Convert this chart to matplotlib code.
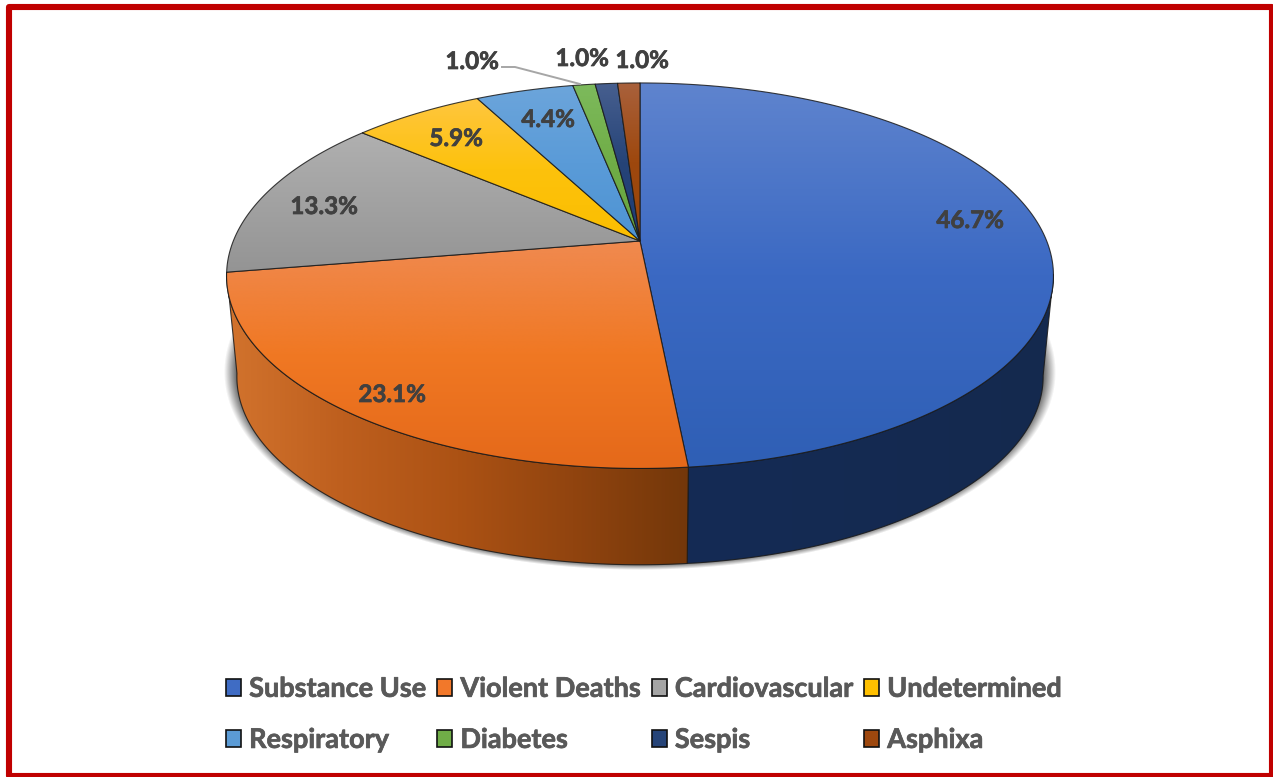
import numpy as np
import matplotlib
matplotlib.use("Agg")
import matplotlib.pyplot as plt
import matplotlib.patheffects as pe
from matplotlib.colors import LinearSegmentedColormap
from matplotlib.patches import Polygon, Rectangle

# ---------- data ----------
categories = ["Substance Use", "Violent Deaths", "Cardiovascular", "Undetermined",
              "Respiratory", "Diabetes", "Sespis", "Asphixa"]
values = [46.7, 23.1, 13.3, 5.9, 4.4, 1.0, 1.0, 1.0]
top_light = ["#5F84CE", "#F08A50", "#B0B0B0", "#FFC63F", "#6CA5DB", "#7DBA5C", "#475F8F", "#A9613C"]
top_mid = ["#3B69C3", "#F07823", "#A2A2A2", "#FDC20C", "#5A9BD8", "#70AD47", "#264478", "#9E480E"]
top_deep = ["#2F5FB5", "#E5691A", "#949494", "#FBBE00", "#4E94D3", "#66A53E", "#1E3C76", "#9A460A"]
legend_face = ["#3F6CC4", "#F2782A", "#A5A5A5", "#FFC000", "#5B9BD5", "#70AD47", "#264478", "#9E480E"]
side_orange = ["#D2732D", "#BE5F1E", "#AC5214", "#91440F", "#73370A"]
side_blue = ["#152B55", "#14294E"]

# ---------- layout ----------
W, H = 1273, 777
CX, APEX_Y = 640.0, 241.0
K, A, B = 0.18, 406.7, 186.5
DEPTH_Y, DEPTH_S = 343.0, 0.975
LABEL_XY = [(970, 220.5), (392, 394.5), (324, 206.5), (456, 138.5), (548, 119.5),
            (472, 61.5), (582, 58.5), (642, 60.5)]
TEXT_DARK, TEXT_LEG = "#404040", "#595959"

plt.rcParams["font.family"] = ["Lato", "DejaVu Sans"]
fig = plt.figure(figsize=(W / 100, H / 100), dpi=100, facecolor="white")
ax = fig.add_axes([0, 0, 1, 1])


def top_pt(deg):
    t = np.radians(deg)
    w = 1 + K * np.cos(t)
    return CX + A * np.sin(t) / w, APEX_Y - B * np.cos(t) / w


def bot_pt(deg):
    t = np.radians(deg)
    w = 1 + K * np.cos(t)
    return CX + DEPTH_S * A * np.sin(t) / w, DEPTH_Y - DEPTH_S * B * np.cos(t) / w


def gradient_fill(poly_xy, cmap, horizontal=False, z=2):
    xs, ys = poly_xy[:, 0], poly_xy[:, 1]
    ramp = np.linspace(0, 1, 256)
    arr = cmap(ramp)[None, :, :3] if horizontal else cmap(ramp)[:, None, :3]
    im = ax.imshow(arr, extent=(xs.min(), xs.max(), ys.max(), ys.min()), aspect="auto",
                   origin="upper", interpolation="bilinear", zorder=z)
    clip = Polygon(poly_xy, closed=True, transform=ax.transData)
    im.set_clip_path(clip)
    ax.add_patch(Polygon(poly_xy, closed=True, fill=False, edgecolor="#1a1a1a",
                         linewidth=0.8, alpha=0.85, zorder=z + 0.1))


# soft shadow under the disc
gx, gy = np.meshgrid(np.arange(W) + 0.5, np.arange(H) + 0.5)
r = np.hypot((gx - CX) / 416.0, (gy - 372.0) / 198.0)
alpha = 0.75 * np.clip((1 - r) / 0.03, 0, 1)
shadow = np.dstack([np.full(r.shape, 0.22)] * 3 + [alpha])
ax.imshow(shadow, extent=(0, W, H, 0), aspect="auto", origin="upper", zorder=1)

angles = np.concatenate([[0], np.cumsum(values)]) / np.sum(values) * 360.0

# side walls of the two front slices (stops run left to right)
side_ranges = [(100.0, angles[1], side_blue), (angles[1], angles[2], side_orange)]
for z_i, (a0, a1, stops) in enumerate(side_ranges):
    th = np.linspace(a0, a1, 200)
    tx, ty = top_pt(th)
    bx, by = bot_pt(th)
    poly = np.vstack([np.c_[tx, ty], np.c_[bx, by][::-1]])
    gradient_fill(poly, LinearSegmentedColormap.from_list("s", stops), horizontal=True, z=2 + z_i * 0.2)

# top faces
for i in range(len(values)):
    th = np.linspace(angles[i], angles[i + 1], 200)
    tx, ty = top_pt(th)
    poly = np.vstack([[CX, APEX_Y], np.c_[tx, ty]])
    cm = LinearSegmentedColormap.from_list("t", [top_light[i], top_mid[i], top_deep[i]])
    gradient_fill(poly, cm, z=3 + i * 0.2)

# percentage labels
for v, (lx, ly) in zip(values, LABEL_XY):
    ax.text(lx, ly, f"{v:.1f}%", ha="center", va="center", fontsize=17.4, fontweight="bold",
            color=TEXT_DARK, zorder=6,
            path_effects=[pe.withStroke(linewidth=0.5, foreground=TEXT_DARK)])

# leader line for the Diabetes label
ax.plot([502, 515, 580], [67, 67, 84], color="#A6A6A6", lw=1.4, zorder=5)

# frame
ax.add_patch(Rectangle((9, 7), 1263, 769, fill=False, edgecolor="#C00000", linewidth=4.4,
                       joinstyle="round", zorder=7))

ax.set_xlim(0, W)
ax.set_ylim(H, 0)
ax.axis("off")

# legend: matplotlib fills columns first, the reference reads row by row
ncol = 4
order = [i + j for j in range(ncol) for i in (0, ncol)]
handles = [Rectangle((0, 0), 1, 1, facecolor=legend_face[i], edgecolor="#111111", linewidth=1.2) for i in order]
leg = fig.legend(handles, [categories[i] for i in order], ncol=ncol, loc="upper left",
                 bbox_to_anchor=(215 / W, 1 - 666 / H),
                 frameon=False, prop={"family": "Lato", "weight": "bold", "size": 19.5},
                 labelcolor=TEXT_LEG, handlelength=0.56, handleheight=0.56, handletextpad=0.3,
                 columnspacing=0.39, labelspacing=1.0, borderaxespad=0, borderpad=0.4)
for t in leg.get_texts():
    t.set_path_effects([pe.withStroke(linewidth=0.5, foreground=TEXT_LEG)])

fig.savefig("out.png", dpi=100, facecolor="white")
